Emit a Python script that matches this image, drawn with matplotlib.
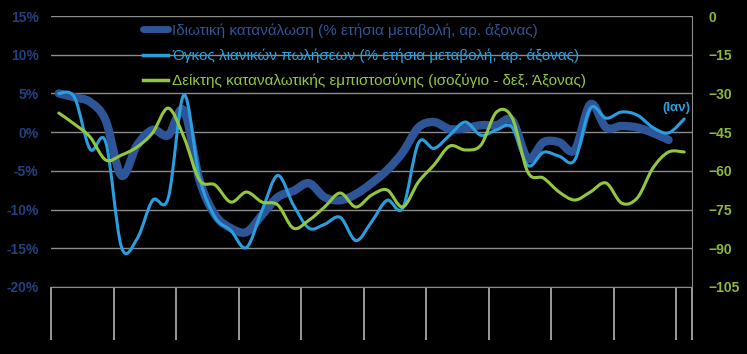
import numpy as np
import matplotlib
matplotlib.use('Agg')
import matplotlib.pyplot as plt
from matplotlib.path import Path
from matplotlib.patches import PathPatch
from matplotlib.lines import Line2D

plt.rcParams['font.family'] = ['Liberation Sans', 'DejaVu Sans']

# quarterly values (last retail/confidence point is January)
consumption = [5.0, 4.5, 3.9, 1.5, -5.6, -1.7, 0.3, -0.4, 2.8, -6.2,
               -10.7, -12.4, -12.9, -10.7, -8.4, -7.6, -6.6, -8.4, -8.8, -8.0,
               -6.6, -4.9, -2.6, 0.6, 1.3, 0.4, 0.5, 0.9, 0.9, 1.5,
               -3.4, -1.3, -1.3, -2.3, 3.6, 0.6, 0.8, 0.6, -0.1, -1.0]
retail = [5.0, 4.5, -2.2, -1.3, -14.8, -13.8, -8.8, -8.5, 4.8, -5.9,
          -11.0, -12.7, -14.9, -10.1, -5.6, -9.4, -12.4, -11.9, -11.0, -14.0,
          -11.6, -8.8, -9.8, -1.4, -2.1, -0.4, 1.3, -0.4, 0.3, 0.6,
          -4.3, -2.6, -3.1, -3.6, 3.1, 1.8, 2.6, 2.2, 0.6, -0.1, 1.7]
confidence = [-37.6, -41.9, -46.9, -55.8, -53.9, -50.8, -45.3, -35.7, -46.9, -63.6,
              -65.5, -72.1, -68.2, -72.1, -73.2, -82.2, -79.1, -74.0, -68.6, -74.0,
              -69.4, -67.4, -74.0, -64.3, -57.7, -50.4, -51.9, -50.0, -37.2, -39.5,
              -60.5, -62.8, -68.2, -71.3, -68.2, -64.7, -72.5, -70.5, -58.9, -52.7, -52.7]

labels = ['Ιδιωτική κατανάλωση (% ετήσια μεταβολή, αρ. άξονας)',
          'Όγκος λιανικών πωλήσεων (% ετήσια μεταβολή, αρ. άξονας)',
          'Δείκτης καταναλωτικής εμπιστοσύνης (ισοζύγιο - δεξ. Άξονας)']
left_ticks = [15, 10, 5, 0, -5, -10, -15, -20]
right_ticks = [0, -15, -30, -45, -60, -75, -90, -105]

dark_blue = '#2E5597'
light_blue = '#2A9FE0'
green = '#93C83E'
grid_col = '#8c8c8c'


# smoothed line like Excel: catmull-rom segments drawn as bezier curves
def smooth_path(ys):
    pts = np.column_stack([np.arange(len(ys)), ys]).astype(float)
    n = len(pts)
    verts = [pts[0]]
    codes = [Path.MOVETO]
    for i in range(n - 1):
        p0 = pts[i - 1] if i > 0 else pts[i]
        p1 = pts[i]
        p2 = pts[i + 1]
        p3 = pts[i + 2] if i + 2 < n else pts[i + 1]
        verts += [p1 + (p2 - p0) / 6, p2 - (p3 - p1) / 6, p2]
        codes += [Path.CURVE4] * 3
    return Path(verts, codes)


fig = plt.figure(figsize=(7.47, 3.54), dpi=100, facecolor='black')
ax = fig.add_axes([51 / 747, 1 - 287 / 354, 641 / 747, 271 / 354])
ax.set_facecolor('black')
ax2 = ax.twinx()
ax2.patch.set_visible(False)

ax.set_xlim(-0.5, 40.5)
ax.set_ylim(-20, 15)
ax2.set_ylim(-105, 0)

ax.add_patch(PathPatch(smooth_path(consumption), fill=False, ec=dark_blue,
                       lw=6, capstyle='round', joinstyle='round', zorder=3))
ax.add_patch(PathPatch(smooth_path(retail), fill=False, ec=light_blue,
                       lw=2.2, capstyle='round', zorder=4))
ax2.add_patch(PathPatch(smooth_path(confidence), fill=False, ec=green,
                        lw=2.2, capstyle='round', zorder=4))

ax.set_yticks(left_ticks)
ax.set_yticklabels([f'{t}%' for t in left_ticks])
ax.yaxis.grid(True, color=grid_col, lw=1)
ax.set_axisbelow(True)
ax.tick_params(axis='y', length=0, pad=9, labelcolor='#24407F', labelsize=10)
for lab in ax.get_yticklabels():
    lab.set_fontweight('bold')

ax2.set_yticks(right_ticks)
ax2.tick_params(axis='y', length=0, pad=12, labelcolor='#8DB83A', labelsize=10)
for lab in ax2.get_yticklabels():
    lab.set_fontweight('bold')

xt = [-0.5 + 4 * k for k in range(11)] + [40.5]
ax.set_xticks(xt)
ax.set_xticklabels([''] * len(xt))
ax.tick_params(axis='x', length=38, width=1.3, color='#a6a6a6', direction='out')

for a in (ax, ax2):
    for s in ('top', 'left'):
        a.spines[s].set_visible(False)
    a.spines['bottom'].set_color(grid_col)
    a.spines['right'].set_color(grid_col)
ax.spines['right'].set_visible(False)
ax2.spines['bottom'].set_visible(False)

ax.text(39.5, 3.1, '(Ιαν)', color=light_blue, fontsize=9.5, fontweight='bold',
        ha='center', va='center', zorder=5)

handles = [Line2D([], [], color=dark_blue, lw=5, solid_capstyle='round'),
           Line2D([], [], color=light_blue, lw=2.5),
           Line2D([], [], color=green, lw=2.5)]
leg = ax2.legend(handles, labels, loc='upper left', bbox_to_anchor=(143 / 747, 1 - 23 / 354),
                 bbox_transform=fig.transFigure, frameon=False, fontsize=11,
                 borderpad=0, borderaxespad=0,
                 handlelength=1.65, handletextpad=0.25, labelspacing=0.72,
                 labelcolor=[dark_blue, light_blue, green])

fig.savefig('out.png', dpi=100, facecolor='black')
